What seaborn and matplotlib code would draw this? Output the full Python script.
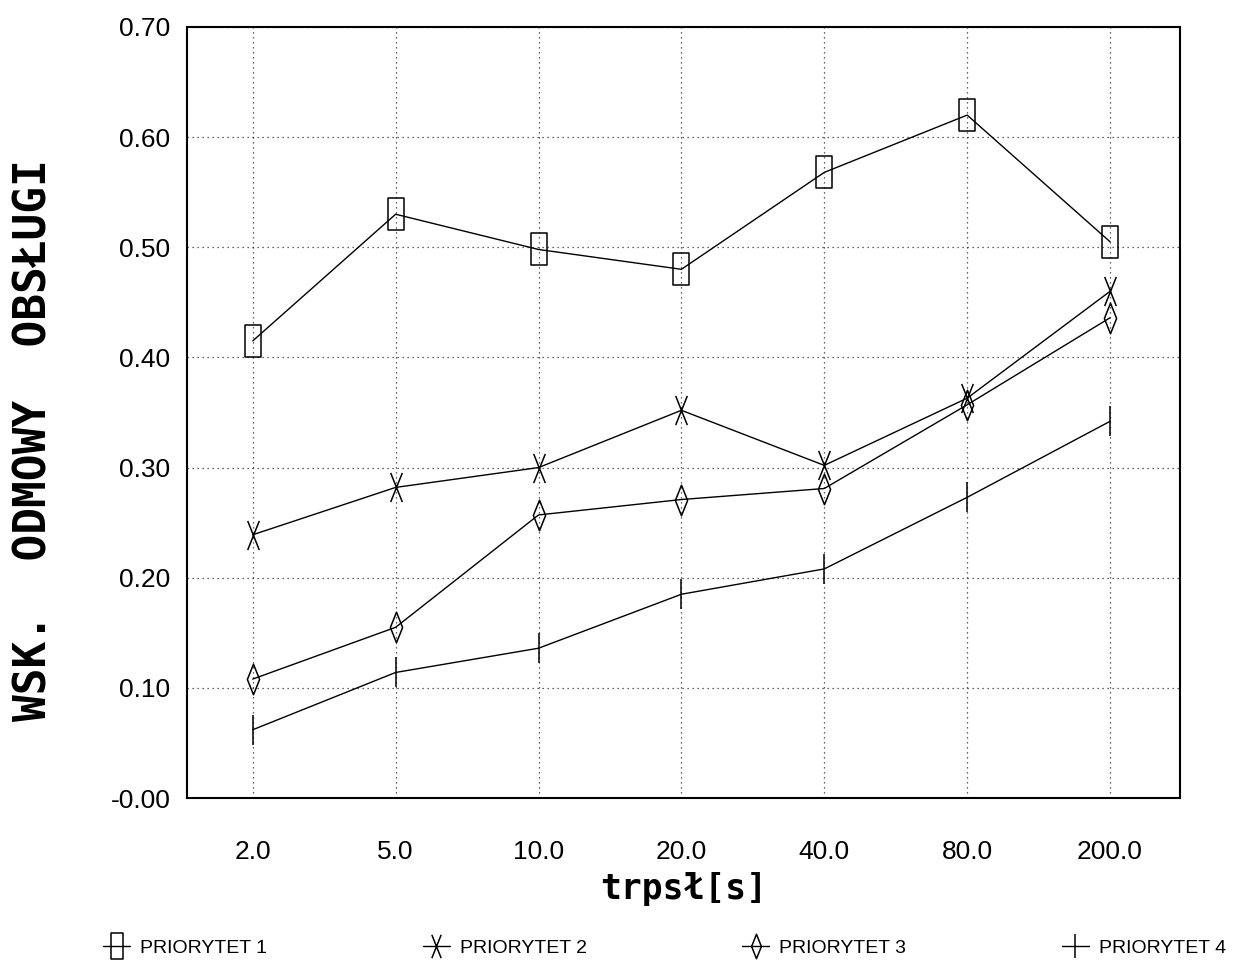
import matplotlib
matplotlib.use("Agg")
import matplotlib.pyplot as plt
import seaborn as sns
import pandas as pd
from matplotlib.path import Path

# ---- data ----
categories = ["2.0", "5.0", "10.0", "20.0", "40.0", "80.0", "200.0"]
p1 = [0.415, 0.530, 0.498, 0.480, 0.568, 0.620, 0.505]
p2 = [0.239, 0.282, 0.300, 0.352, 0.302, 0.363, 0.460]
p3 = [0.108, 0.155, 0.257, 0.271, 0.281, 0.357, 0.436]
p4 = [0.062, 0.114, 0.136, 0.185, 0.208, 0.273, 0.342]
series_names = ["PRIORYTET 1", "PRIORYTET 2", "PRIORYTET 3", "PRIORYTET 4"]
ytick_vals = [0.0, 0.1, 0.2, 0.3, 0.4, 0.5, 0.6, 0.7]
ytick_labels = ["-0.00", "0.10", "0.20", "0.30", "0.40", "0.50", "0.60", "0.70"]

sns.set_theme(style="white")
plt.rcParams["font.family"] = ["Liberation Sans", "DejaVu Sans"]

# custom marker paths
rect = Path([(-0.24, -0.5), (0.24, -0.5), (0.24, 0.5), (-0.24, 0.5), (-0.24, -0.5)],
            [Path.MOVETO, Path.LINETO, Path.LINETO, Path.LINETO, Path.CLOSEPOLY])
xmark = Path([(-0.2, -0.5), (0.2, 0.5), (-0.2, 0.5), (0.2, -0.5)],
             [Path.MOVETO, Path.LINETO, Path.MOVETO, Path.LINETO])
diam = Path([(0, 0.5), (0.2, 0), (0, -0.5), (-0.2, 0), (0, 0.5)],
            [Path.MOVETO, Path.LINETO, Path.LINETO, Path.LINETO, Path.CLOSEPOLY])
markers = [rect, xmark, diam, "|"]
msizes = [23, 21, 22, 22]

fig = plt.figure(figsize=(12.41, 9.63), dpi=100)
ax = fig.add_axes([0.1507, 0.1713, 0.8002, 0.8007])

for name, vals, mk, ms in zip(series_names, [p1, p2, p3, p4], markers, msizes):
    df = pd.DataFrame({"x": categories, "y": vals})
    sns.lineplot(data=df, x="x", y="y", ax=ax, color="black", linewidth=1.0,
                 marker=mk, markersize=ms, markerfacecolor="none",
                 markeredgecolor="black", markeredgewidth=1.1, label=name,
                 sort=False)

ax.set_xlim(-0.46, 6.49)
ax.set_ylim(0, 0.7)
ax.set_yticks(ytick_vals)
ax.set_yticklabels(ytick_labels)
ax.set_ylabel("")
ax.grid(True, linestyle=(0, (1, 3)), color="black", linewidth=0.9, alpha=0.8)
for s in ax.spines.values():
    s.set_visible(True)
    s.set_color("black")
    s.set_linewidth(1.5)
ax.tick_params(axis="both", direction="in", length=6, width=1, colors="black",
               labelsize=19, pad=12)
ax.tick_params(axis="x", pad=30)

ax.set_xlabel("trpsł[s]", fontsize=25, fontweight="bold",
              family=["DejaVu Sans Mono"], labelpad=6, color="black")
fig.text(0.027, 0.543, "WSK.  ODMOWY  OBSŁUGI", rotation=90, fontsize=32,
         fontweight="bold", family=["DejaVu Sans Mono"], ha="center",
         va="center", color="black")

handles, labels = ax.get_legend_handles_labels()
ax.get_legend().remove()
fig.legend(handles, labels, loc="lower left", bbox_to_anchor=(0.069, -0.012),
           ncol=4, frameon=False, fontsize=14, handlelength=1.4,
           handletextpad=0.5, columnspacing=8.0, markerscale=0.8,
           labelcolor="black")

fig.savefig("out.png", dpi=100)
